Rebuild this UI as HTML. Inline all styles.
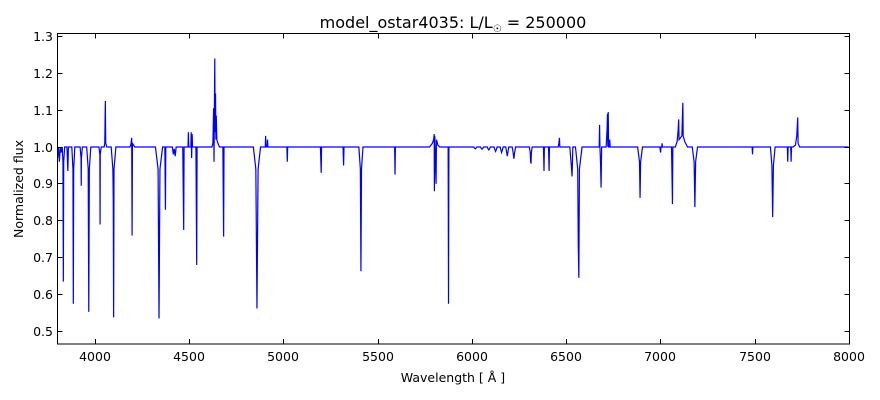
<!DOCTYPE html>
<html><head><meta charset="utf-8"><style>
body{margin:0;background:#fff;}
svg{display:block;font-family:"DejaVu Sans","Liberation Sans",sans-serif;}
</style></head><body>
<svg width="880" height="400" viewBox="0 0 880 400" xmlns="http://www.w3.org/2000/svg">
<rect width="880" height="400" fill="#fff"/>
<defs><clipPath id="c"><rect x="57.5" y="33.5" width="792" height="310.5"/></clipPath></defs>
<g clip-path="url(#c)">
<g transform="translate(57.5,147) scale(0.18835,0.36875)">
<path vector-effect="non-scaling-stroke" fill="none" stroke="#0000ff" stroke-width="1.2" d="M0,30 L5,0 L10,40 L15,0 L20,15 L25,0 L29,40 L31,365 L33,40 L38,0 L50,0 L55,65 L58,0 L76,0 L82,60 L84,425 L86,60 L92,0 L120,0 L125,30 L126,105 L127,30 L132,0 L155,0 L163,60 L166,447 L169,60 L177,0 L220,0 L225,20 L226,210 L227,20 L232,0 L248,0 L251,-10 L254,-125 L256,-10 L262,0 L285,0 L294,60 L296,140 L298,462 L300,60 L310,0 L385,0 L390,-8 L394,-25 L396,240 L398,-10 L410,0 L520,0 L534,60 L539,465 L544,60 L558,0 L570,0 L573,170 L575,0 L610,0 L615,20 L620,5 L625,25 L630,0 L665,0 L670,225 L672,0 L693,0 L695,-40 L697,0 L708,0 L710,-40 L712,30 L715,-35 L717,0 L735,0 L739,320 L741,0 L820,0 L825,-10 L829,-105 L831,40 L833,-100 L835,-240 L837,-40 L839,-145 L841,-20 L843,-85 L846,-20 L852,-10 L860,0 L878,0 L882,243 L884,0 L1040,0 L1053,60 L1059,438 L1065,60 L1078,0 L1103,0 L1105,-30 L1107,0 L1113,0 L1115,-20 L1117,0 L1218,0 L1220,40 L1222,0 L1396,0 L1400,70 L1402,0 L1516,0 L1519,50 L1521,0 L1600,0 L1608,60 L1611,337 L1614,60 L1622,0 L1790,0 L1792,75 L1794,0 L1975,0 L1990,-10 L1997,-20 L2000,-35 L2001,120 L2003,-30 L2010,100 L2012,-20 L2020,-5 L2030,0 L2074,0 L2076,425 L2078,0 L2210,0 L2214,3 L2218,5 L2222,3 L2226,0 L2246,0 L2250,4 L2254,6 L2258,4 L2262,0 L2282,0 L2286,5 L2290,8 L2294,5 L2298,0 L2318,0 L2322,7 L2326,12 L2330,7 L2334,0 L2350,0 L2354,8 L2358,15 L2362,8 L2366,0 L2380,0 L2384,12 L2388,25 L2392,12 L2396,0 L2414,0 L2419,15 L2423,32 L2427,15 L2432,0 L2505,0 L2510,15 L2512,40 L2514,45 L2516,15 L2520,0 L2580,0 L2583,65 L2585,0 L2607,0 L2610,65 L2612,0 L2658,0 L2662,-10 L2665,-25 L2667,0 L2720,0 L2728,50 L2732,80 L2736,0 L2750,0 L2762,60 L2765,270 L2768,355 L2771,60 L2785,0 L2876,0 L2878,-60 L2880,0 L2883,40 L2886,110 L2889,0 L2913,0 L2918,-50 L2920,-90 L2922,0 L2924,-95 L2926,0 L2930,0 L2932,-20 L2934,0 L3080,0 L3090,40 L3093,138 L3096,40 L3106,0 L3198,0 L3202,15 L3204,0 L3208,0 L3210,-10 L3212,0 L3260,0 L3265,155 L3267,0 L3280,0 L3290,-15 L3295,-45 L3298,-75 L3300,-20 L3315,-30 L3320,-120 L3322,-30 L3330,-15 L3345,0 L3370,0 L3380,40 L3384,163 L3388,40 L3398,0 L3688,0 L3690,20 L3692,0 L3785,0 L3793,50 L3797,190 L3801,50 L3810,0 L3875,0 L3877,40 L3879,0 L3893,0 L3895,40 L3897,0 L3905,0 L3918,-5 L3925,-30 L3930,-80 L3932,-10 L3940,0 L4200,0"/>
</g></g>
<rect x="57.5" y="33.5" width="792" height="310.5" fill="none" stroke="#000" stroke-width="1"/>
<g stroke="#000" stroke-width="1">
<path d="M95.5,344v-5M95.5,33.5v5M189.5,344v-5M189.5,33.5v5M283.5,344v-5M283.5,33.5v5M378.5,344v-5M378.5,33.5v5M472.5,344v-5M472.5,33.5v5M566.5,344v-5M566.5,33.5v5M660.5,344v-5M660.5,33.5v5M755.5,344v-5M755.5,33.5v5"/>
<path d="M57.5,36.5h5M849.5,36.5h-5M57.5,73.5h5M849.5,73.5h-5M57.5,110.5h5M849.5,110.5h-5M57.5,147.5h5M849.5,147.5h-5M57.5,183.5h5M849.5,183.5h-5M57.5,220.5h5M849.5,220.5h-5M57.5,257.5h5M849.5,257.5h-5M57.5,294.5h5M849.5,294.5h-5M57.5,331.5h5M849.5,331.5h-5"/>
</g>
<g font-size="12.5" fill="#000" text-anchor="middle">
<text x="95" y="361">4000</text><text x="189" y="361">4500</text><text x="283" y="361">5000</text><text x="378" y="361">5500</text><text x="472" y="361">6000</text><text x="566" y="361">6500</text><text x="660" y="361">7000</text><text x="755" y="361">7500</text><text x="849" y="361">8000</text>
</g>
<g font-size="12.5" fill="#000" text-anchor="end">
<text x="53" y="41">1.3</text><text x="53" y="78">1.2</text><text x="53" y="115">1.1</text><text x="53" y="152">1.0</text><text x="53" y="188">0.9</text><text x="53" y="225">0.8</text><text x="53" y="262">0.7</text><text x="53" y="299">0.6</text><text x="53" y="336">0.5</text>
</g>
<text x="453" y="382" font-size="12.5" text-anchor="middle">Wavelength [ Å ]</text>
<text transform="translate(23,189) rotate(-90)" font-size="12.5" text-anchor="middle">Normalized flux</text>
<text x="453" y="28" font-size="16" text-anchor="middle">model_ostar4035: L/L<tspan font-size="10" dy="4">☉</tspan><tspan dy="-4"> = 250000</tspan></text>
</svg>
</body></html>
